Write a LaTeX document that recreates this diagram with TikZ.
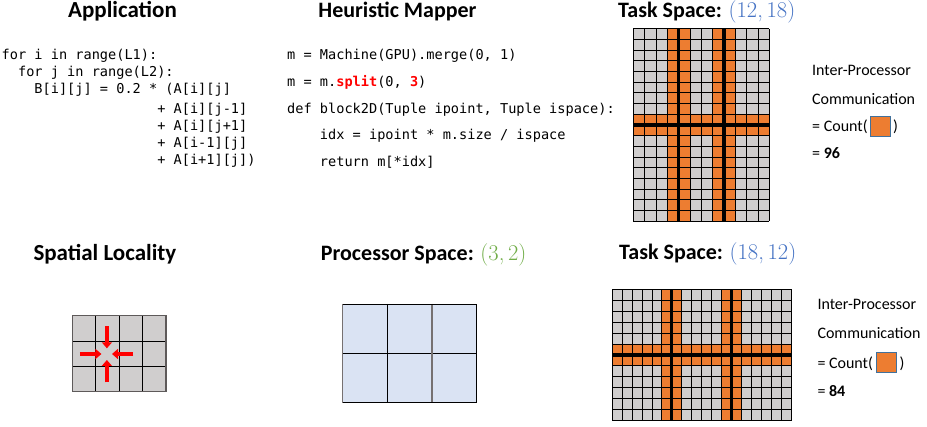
\documentclass[tikz,border=0pt]{standalone}
\usepackage[no-math]{fontspec}
\setmainfont{Carlito}
\setmonofont{DejaVu Sans Mono}
\newfontfamily\lmrfont{Latin Modern Roman}
\usetikzlibrary{arrows.meta,calc}
\definecolor{cellgray}{HTML}{D0CECE}
\definecolor{orangeA}{HTML}{ED7D31}
\definecolor{mathblue}{HTML}{4472C4}
\definecolor{mathgreen}{HTML}{70AD47}
\definecolor{procblue}{HTML}{DAE3F3}
\definecolor{boxblue}{HTML}{41719C}
\definecolor{codered}{HTML}{FF0000}
\definecolor{bordergray}{HTML}{767171}
\tikzset{
  titletext/.style={font=\bfseries\fontsize{22}{26}\selectfont, inner sep=0, anchor=base west},
  bigtitle/.style={font=\bfseries\fontsize{23}{27}\selectfont, inner sep=0, anchor=base west},
  codetext/.style={font=\ttfamily\fontsize{13.6}{16}\selectfont, inner sep=0, anchor=base west},
  bodytext/.style={font=\fontsize{16}{19}\selectfont, inner sep=0, anchor=base west},
  gridthin/.style={line width=0.9pt, draw=black},
  gridthick/.style={line width=3.2pt, draw=black},
  redarrow/.style={draw=codered, line width=3.3pt, -{Triangle[length=6pt,width=10pt]}},
  countbox/.style={draw=boxblue, fill=orangeA, line width=1pt, minimum width=20pt, minimum height=20pt, inner sep=0},
}
\newcommand{\ind}[1]{\hphantom{#1}}
\newcommand{\tup}[2]{{\mdseries\lmrfont\fontsize{22.5}{26}\selectfont\textcolor{#1}{#2}}}
\begin{document}
\begin{tikzpicture}[x=1pt,y=-1pt]
\useasboundingbox (0,0) rectangle (927,427);
\fill[white] (0,0) rectangle (927,427);

% ---------- titles ----------
\node[bigtitle, anchor=base] (tApp) at (122.5,17.8) {Application};
\node[titletext, anchor=base] (tMap) at (397.5,17.5) {Heuristic Mapper};
\node[titletext] (tTask1) at (618,17.5) {Task Space: \tup{mathblue}{(12,\,18)}};
\node[bigtitle] (tSpat) at (33.3,260.7) {Spatial Locality};
\node[titletext] (tProc) at (320.7,260.7) {Processor Space: \tup{mathgreen}{(3,\,2)}};
\node[titletext] (tTask2) at (619,259.3) {Task Space: \tup{mathblue}{(18,\,12)}};

% ---------- application code ----------
\node[codetext] (a1) at (1.5,60) {for i in range(L1):};
\node[codetext] (a2) at (1.5,77) {\ind{xx}for j in range(L2):};
\node[codetext] (a3) at (1.5,94) {\ind{xxxx}B[i][j] = 0.2 * (A[i][j]};
\node[codetext] (a4) at (1.5,113.5) {\ind{xxxxxxxxxxxxxxxxxxx}+ A[i][j-1]};
\node[codetext] (a5) at (1.5,130.5) {\ind{xxxxxxxxxxxxxxxxxxx}+ A[i][j+1]};
\node[codetext] (a6) at (1.5,147.5) {\ind{xxxxxxxxxxxxxxxxxxx}+ A[i-1][j]};
\node[codetext] (a7) at (1.5,164.5) {\ind{xxxxxxxxxxxxxxxxxxx}+ A[i+1][j])};

% ---------- mapper code ----------
\node[codetext] (m1) at (287,60) {m = Machine(GPU).merge(0, 1)};
\node[codetext] (m2) at (287,86.7) {m = m.\textcolor{codered}{\bfseries split}(0, \textcolor{codered}{\bfseries 3})};
\node[codetext] (m3) at (287,113.3) {def block2D(Tuple ipoint, Tuple ispace):};
\node[codetext] (m4) at (287,140) {\ind{xxxx}idx = ipoint * m.size / ispace};
\node[codetext] (m5) at (287,166.7) {\ind{xxxx}return m[*idx]};

% ---------- task space (12,18) ----------
\fill[cellgray] (633.3,28.7) rectangle (769.3,221.3);
\fill[orangeA] (667.3,28.7) rectangle (690,221.3);
\fill[orangeA] (712.63,28.7) rectangle (735.3,221.3);
\fill[orangeA] (633.3,114.3) rectangle (769.3,135.7);
\foreach \i in {0,...,12} \draw[gridthin] ({633.3+\i*11.3333},28.7) -- ({633.3+\i*11.3333},221.3);
\foreach \j in {0,...,18} \draw[gridthin] (633.3,{28.7+\j*10.7}) -- (769.3,{28.7+\j*10.7});
\draw[gridthick] (678.63,28.7) -- (678.63,221.3);
\draw[gridthick] (723.97,28.7) -- (723.97,221.3);
\draw[gridthick] (633.3,125) -- (769.3,125);

\node[bodytext] (ip1) at (812,75.5) {Inter-Processor};
\node[bodytext] (cm1) at (812,104.3) {Communication};
\node[bodytext] (ct1) at (812,132) {= Count(};
\node[countbox] (bx1) at (880.3,126.8) {};
\node[bodytext] (cp1) at (893,132) {)};
\node[bodytext] (eq1) at (812,159) {= \textbf{96}};

% ---------- task space (18,12) ----------
\fill[cellgray] (612.3,289.3) rectangle (791,420.7);
\fill[orangeA] (661.94,289.3) rectangle (681.79,420.7);
\fill[orangeA] (721.5,289.3) rectangle (741.36,420.7);
\fill[orangeA] (612.3,344.05) rectangle (791,365.95);
\foreach \i in {0,...,18} \draw[gridthin] ({612.3+\i*9.9278},289.3) -- ({612.3+\i*9.9278},420.7);
\foreach \j in {0,...,12} \draw[gridthin] (612.3,{289.3+\j*10.95}) -- (791,{289.3+\j*10.95});
\draw[gridthick] (671.87,289.3) -- (671.87,420.7);
\draw[gridthick] (731.43,289.3) -- (731.43,420.7);
\draw[gridthick] (612.3,355) -- (791,355);

\node[bodytext] (ip2) at (817.3,309.3) {Inter-Processor};
\node[bodytext] (cm2) at (817.3,338.3) {Communication};
\node[bodytext] (ct2) at (817.3,368.3) {= Count(};
\node[countbox] (bx2) at (886.7,363) {};
\node[bodytext] (cp2) at (899.5,368.3) {)};
\node[bodytext] (eq2) at (817.3,396.7) {= \textbf{84}};

% ---------- spatial locality ----------
\fill[cellgray] (72.3,315.7) rectangle (166,391.7);
\foreach \x in {95.725,119.15,142.575} \draw[line width=0.9pt] (\x,315.7) -- (\x,391.7);
\foreach \y in {341.03,366.37} \draw[line width=0.9pt] (72.3,\y) -- (166,\y);
\draw[line width=1.3pt, draw=bordergray!80!black] (72.3,315.7) rectangle (166,391.7);
\coordinate (sc) at (106.9,354);
\coordinate (aT) at (106.9,326.5);
\coordinate (aB) at (106.9,382.5);
\coordinate (aL) at (79.8,354);
\coordinate (aR) at (133,354);
\coordinate (hT) at (106.9,348.3);
\coordinate (hB) at (106.9,360);
\coordinate (hL) at (101.4,354);
\coordinate (hR) at (112,354);
\draw[redarrow] (aT) -- (hT);
\draw[redarrow] (aB) -- (hB);
\draw[redarrow] (aL) -- (hL);
\draw[redarrow] (aR) -- (hR);

% ---------- processor space ----------
\fill[procblue] (342.7,304) rectangle (476.7,402.7);
\draw[line width=0.9pt] (342.7,353.35) -- (476.7,353.35);
\draw[line width=0.9pt] (387.37,304) -- (387.37,402.7);
\draw[line width=1.4pt, draw=bordergray] (432.03,304) -- (432.03,402.7);
\draw[line width=0.9pt] (342.7,304) -- (476.7,304) -- (476.7,402.7) -- (342.7,402.7);
\draw[line width=1.4pt, draw=bordergray] (342.7,304) -- (342.7,402.7);
\end{tikzpicture}
\end{document}
